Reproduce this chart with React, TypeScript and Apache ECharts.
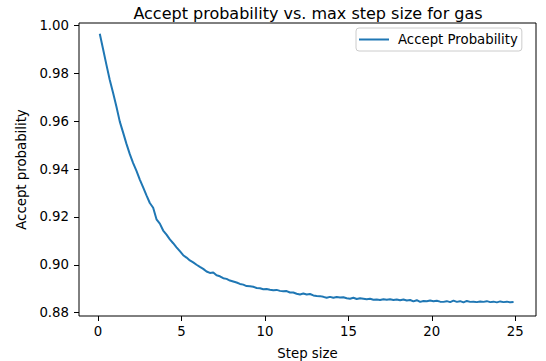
import React, { useEffect, useRef } from "react";
import * as echarts from "echarts";

const chartTitle = "Accept probability vs. max step size for gas";
const seriesName = "Accept Probability";
const xAxisName = "Step size";
const yAxisName = "Accept probability";

const xTicks = [0, 5, 10, 15, 20, 25];
const yTicks = [0.88, 0.9, 0.92, 0.94, 0.96, 0.98, 1.0];

const stepSizes = [
  0.1, 0.3, 0.5, 0.7, 0.9, 1.1, 1.3, 1.5, 1.7, 1.9,
  2.1, 2.3, 2.5, 2.7, 2.9, 3.1, 3.3, 3.5, 3.7, 3.9,
  4.1, 4.3, 4.5, 4.7, 4.9, 5.1, 5.3, 5.5, 5.7, 5.9,
  6.1, 6.3, 6.5, 6.7, 6.9, 7.1, 7.3, 7.5, 7.7, 7.9,
  8.1, 8.3, 8.5, 8.7, 8.9, 9.1, 9.3, 9.5, 9.7, 9.9,
  10.1, 10.3, 10.5, 10.7, 10.9, 11.1, 11.3, 11.5, 11.7, 11.9,
  12.1, 12.3, 12.5, 12.7, 12.9, 13.1, 13.3, 13.5, 13.7, 13.9,
  14.1, 14.3, 14.5, 14.7, 14.9, 15.1, 15.3, 15.5, 15.7, 15.9,
  16.1, 16.3, 16.5, 16.7, 16.9, 17.1, 17.3, 17.5, 17.7, 17.9,
  18.1, 18.3, 18.5, 18.7, 18.9, 19.1, 19.3, 19.5, 19.7, 19.9,
  20.1, 20.3, 20.5, 20.7, 20.9, 21.1, 21.3, 21.5, 21.7, 21.9,
  22.1, 22.3, 22.5, 22.7, 22.9, 23.1, 23.3, 23.5, 23.7, 23.9,
  24.1, 24.3, 24.5, 24.7, 24.9,
];

const acceptProb = [
  0.9965, 0.99, 0.9835, 0.9772, 0.9718, 0.966, 0.9598, 0.9552, 0.9505, 0.9462,
  0.9425, 0.9392, 0.9356, 0.9323, 0.929, 0.9258, 0.9238, 0.919, 0.9172, 0.9143,
  0.9126, 0.9106, 0.909, 0.9073, 0.9057, 0.904, 0.903, 0.9018, 0.901, 0.9,
  0.8991, 0.8983, 0.8972, 0.8966, 0.8968, 0.8956, 0.8952, 0.8944, 0.8941, 0.8934,
  0.893, 0.8926, 0.892, 0.8917, 0.8911, 0.891, 0.8908, 0.8903, 0.8902, 0.8898,
  0.8899, 0.8896, 0.8894, 0.8895, 0.8891, 0.8889, 0.889, 0.8884, 0.8884, 0.8879,
  0.8876, 0.888, 0.8876, 0.8878, 0.8872, 0.887, 0.8869, 0.8866, 0.8862, 0.8866,
  0.8862, 0.8865, 0.8863, 0.8864, 0.886, 0.8858, 0.8862, 0.8857, 0.886, 0.8858,
  0.8856, 0.8858, 0.8854, 0.8855, 0.8853, 0.8856, 0.8854, 0.8856, 0.8853, 0.8855,
  0.8852, 0.8855, 0.8851, 0.8853, 0.8847, 0.8852, 0.8845, 0.8849, 0.8848, 0.8851,
  0.8848, 0.885, 0.8846, 0.8845, 0.8848, 0.8844, 0.885, 0.8845, 0.8848, 0.8843,
  0.8849, 0.8845, 0.8846, 0.8844, 0.8847, 0.8845, 0.8848, 0.8844, 0.8846, 0.8843,
  0.8847, 0.8844, 0.8846, 0.8843, 0.8844,
];

const FONT = "DejaVu Sans";

export default function App() {
  const ref = useRef<HTMLDivElement>(null);
  useEffect(() => {
    if (!ref.current) return;
    const chart = echarts.init(ref.current, null, { renderer: "svg" });
    const data = stepSizes.map((x, i) => [x, acceptProb[i]]);
    chart.setOption({
      animation: false,
      backgroundColor: "#fff",
      textStyle: { fontFamily: FONT },
      title: {
        text: chartTitle,
        left: 303,
        top: 0,
        textAlign: "center",
        textStyle: { fontFamily: FONT, fontSize: 16, fontWeight: "normal", color: "#000" },
      },
      legend: {
        data: [{ name: seriesName, icon: "rect" }],
        left: 356,
        top: 28,
        padding: [5, 4, 5, 3],
        itemWidth: 30,
        itemHeight: 2,
        borderColor: "#ccc",
        borderWidth: 1,
        borderRadius: 3,
        backgroundColor: "rgba(255,255,255,0.8)",
        textStyle: { fontFamily: FONT, fontSize: 13.3, color: "#000", padding: [0, 0, 0, 4] },
      },
      grid: {
        left: 79,
        top: 23,
        width: 457,
        height: 293,
        show: true,
        borderColor: "#000",
        borderWidth: 1,
        backgroundColor: "transparent",
        containLabel: false,
        outerBoundsMode: "none",
      },
      xAxis: {
        type: "value",
        min: -1.145,
        max: 26.245,
        name: xAxisName,
        nameLocation: "middle",
        nameGap: 31,
        nameTextStyle: { fontFamily: FONT, fontSize: 13.3, color: "#000" },
        axisLine: { show: false, onZero: false },
        splitLine: { show: false },
        axisTick: {
          show: true,
          length: 5,
          customValues: xTicks,
          lineStyle: { color: "#000", width: 1 },
        },
        axisLabel: {
          customValues: xTicks,
          margin: 9,
          fontFamily: FONT,
          fontSize: 13.3,
          color: "#000",
          formatter: (v: number) => String(v),
        },
      },
      yAxis: {
        type: "value",
        min: 0.8786,
        max: 1.001,
        name: yAxisName,
        nameLocation: "middle",
        nameGap: 37,
        nameTextStyle: { fontFamily: FONT, fontSize: 13.3, color: "#000" },
        axisLine: { show: false, onZero: false },
        splitLine: { show: false },
        axisTick: {
          show: true,
          length: 5,
          customValues: yTicks,
          lineStyle: { color: "#000", width: 1 },
        },
        axisLabel: {
          customValues: yTicks,
          margin: 10,
          fontFamily: FONT,
          fontSize: 13.3,
          color: "#000",
          formatter: (v: number) => v.toFixed(2),
        },
      },
      series: [
        {
          name: seriesName,
          type: "line",
          data,
          showSymbol: false,
          symbol: "none",
          lineStyle: { color: "#1f77b4", width: 2 },
          itemStyle: { color: "#1f77b4" },
        },
      ],
    });
    return () => chart.dispose();
  }, []);
  return (
    <div
      ref={ref}
      style={{ position: "absolute", left: 0, top: 0, width: 546, height: 361 }}
    />
  );
}
